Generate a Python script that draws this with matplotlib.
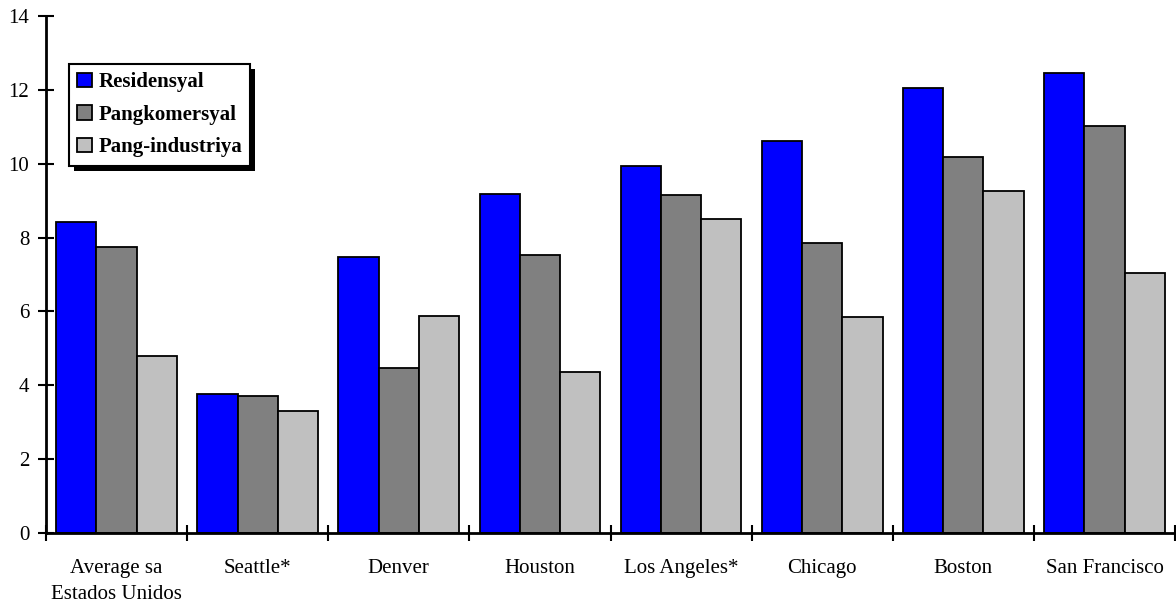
import matplotlib
matplotlib.use("Agg")
import matplotlib.pyplot as plt
from matplotlib.patches import Rectangle
import numpy as np

cities = ["Average sa\nEstados Unidos", "Seattle*", "Denver", "Houston",
          "Los Angeles*", "Chicago", "Boston", "San Francisco"]
residensyal = [8.42, 3.76, 7.47, 9.19, 9.93, 10.61, 12.06, 12.46]
pangkomersyal = [7.74, 3.70, 4.48, 7.53, 9.16, 7.84, 10.19, 11.01]
pang_industriya = [4.79, 3.30, 5.88, 4.35, 8.50, 5.86, 9.26, 7.03]
series_names = ["Residensyal", "Pangkomersyal", "Pang-industriya"]

plt.rcParams['font.family'] = ['Liberation Serif', 'DejaVu Serif']

fig = plt.figure(figsize=(11.76, 6.03), dpi=100)
ax = fig.add_axes([46 / 1176, 70 / 603, 1129 / 1176, 517 / 603])

x = np.arange(len(cities))
w = 0.285
colors = ["#0000FF", "#808080", "#C0C0C0"]
for k, (vals, name) in enumerate(zip([residensyal, pangkomersyal, pang_industriya], series_names)):
    ax.bar(x + (k - 1) * w, vals, w, color=colors[k], edgecolor="black",
           linewidth=1.3, label=name, zorder=2)

ax.set_xlim(-0.5, len(cities) - 0.5)
ax.set_ylim(0, 14)
ax.set_yticks(range(0, 15, 2))
ax.tick_params(axis="y", direction="inout", length=12, width=1.5, labelsize=15, pad=6)

# category labels sit between the boundary ticks
ax.set_xticks(x)
ax.set_xticklabels(cities, fontsize=15, linespacing=1.45)
ax.tick_params(axis="x", which="major", length=0, pad=19)
ax.set_xticks(np.arange(len(cities) + 1) - 0.5, minor=True)
ax.tick_params(axis="x", which="minor", direction="inout", length=12, width=1.5)

for s in ["top", "right"]:
    ax.spines[s].set_visible(False)
for s in ["left", "bottom"]:
    ax.spines[s].set_linewidth(2)
    ax.spines[s].set_zorder(3)

leg = ax.legend(loc="upper left", bbox_to_anchor=(0.0204, 0.907), borderaxespad=0,
                fancybox=False, edgecolor="black", framealpha=1,
                prop={"weight": "bold", "size": 15},
                handlelength=0.7, handleheight=0.7, handletextpad=0.3,
                labelspacing=0.6, borderpad=0.4)
leg.get_frame().set_linewidth(1.5)
leg.set_zorder(5)

# black drop shadow behind the legend box
fig.canvas.draw()
bb = leg.get_window_extent().transformed(fig.transFigure.inverted())
off_x, off_y = 5 / 1176, 5 / 603
ax.add_patch(Rectangle((bb.x0 + off_x, bb.y0 - off_y), bb.width, bb.height,
                       transform=fig.transFigure, facecolor="black",
                       edgecolor="none", zorder=4, clip_on=False))

fig.savefig("out.png", dpi=100)
